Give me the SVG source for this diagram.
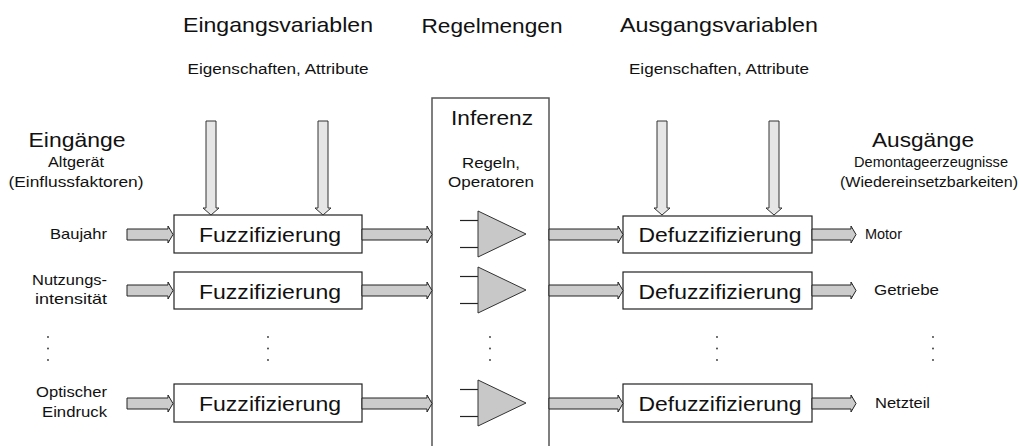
<svg xmlns="http://www.w3.org/2000/svg" width="1020" height="446" viewBox="0 0 1020 446">
<style>
text{font-family:"Liberation Sans",Arial,sans-serif;fill:#111}
.h{font-size:21px;text-anchor:middle}
.s{font-size:15.5px;text-anchor:middle}
.l{font-size:14.5px;text-anchor:end}
.o{font-size:14.5px}
.box{fill:#fff;stroke:#222;stroke-width:1.2}
.bt{font-size:21px;text-anchor:middle}
.ha{fill:#cccccc;stroke:#222;stroke-width:1}
.va{fill:#e6e6e6;stroke:#333;stroke-width:1}
.tri{fill:#c8c8c8;stroke:#333;stroke-width:1}
.ln{stroke:#222;stroke-width:1.2}
.dot{fill:#333}
</style>
<g id="headers">
<text class="h" x="278" y="32" textLength="190" lengthAdjust="spacingAndGlyphs">Eingangsvariablen</text>
<text class="h" x="492" y="33" textLength="141" lengthAdjust="spacingAndGlyphs">Regelmengen</text>
<text class="h" x="719" y="32" textLength="198" lengthAdjust="spacingAndGlyphs">Ausgangsvariablen</text>
<text class="s" x="278" y="74" textLength="181" lengthAdjust="spacingAndGlyphs">Eigenschaften, Attribute</text>
<text class="s" x="719" y="74" textLength="180" lengthAdjust="spacingAndGlyphs">Eigenschaften, Attribute</text>
</g>
<g id="eingaenge">
<text class="h" x="77" y="147" textLength="97" lengthAdjust="spacingAndGlyphs">Eingänge</text>
<text class="s" x="76" y="167" textLength="56" lengthAdjust="spacingAndGlyphs">Altgerät</text>
<text class="s" x="76" y="187" textLength="135" lengthAdjust="spacingAndGlyphs">(Einflussfaktoren)</text>
<text class="l" x="107" y="239" textLength="57" lengthAdjust="spacingAndGlyphs">Baujahr</text>
<text class="l" x="107" y="285" textLength="75" lengthAdjust="spacingAndGlyphs">Nutzungs-</text>
<text class="l" x="107" y="304" textLength="72" lengthAdjust="spacingAndGlyphs">intensität</text>
<text class="l" x="107" y="397" textLength="71" lengthAdjust="spacingAndGlyphs">Optischer</text>
<text class="l" x="107" y="417" textLength="65" lengthAdjust="spacingAndGlyphs">Eindruck</text>
</g>
<g id="ausgaenge">
<text class="h" x="923" y="147" textLength="102" lengthAdjust="spacingAndGlyphs">Ausgänge</text>
<text class="s" x="931" y="167" textLength="154" lengthAdjust="spacingAndGlyphs">Demontageerzeugnisse</text>
<text class="s" x="929" y="187" textLength="178" lengthAdjust="spacingAndGlyphs">(Wiedereinsetzbarkeiten)</text>
<text class="o" x="865" y="239" textLength="37" lengthAdjust="spacingAndGlyphs">Motor</text>
<text class="o" x="874" y="295" textLength="65" lengthAdjust="spacingAndGlyphs">Getriebe</text>
<text class="o" x="875" y="408" textLength="55" lengthAdjust="spacingAndGlyphs">Netzteil</text>
</g>
<g id="inferenz">
<rect x="432" y="98" width="117" height="360" fill="#fff" stroke="#555" stroke-width="1.5"/>
<text class="h" x="492" y="125" textLength="82" lengthAdjust="spacingAndGlyphs">Inferenz</text>
<text class="s" x="491" y="168" textLength="58" lengthAdjust="spacingAndGlyphs">Regeln,</text>
<text class="s" x="491" y="187" textLength="86" lengthAdjust="spacingAndGlyphs">Operatoren</text>
<line class="ln" x1="460" y1="220.5" x2="478" y2="220.5"/>
<line class="ln" x1="460" y1="247.5" x2="478" y2="247.5"/>
<polygon class="tri" points="478,211 526,234 478,257"/>
<line class="ln" x1="460" y1="276.5" x2="478" y2="276.5"/>
<line class="ln" x1="460" y1="303.5" x2="478" y2="303.5"/>
<polygon class="tri" points="478,267 526,290 478,313"/>
<line class="ln" x1="460" y1="389.5" x2="478" y2="389.5"/>
<line class="ln" x1="460" y1="416.5" x2="478" y2="416.5"/>
<polygon class="tri" points="478,380 526,403 478,426"/>
</g>
<g id="fuzz1"><rect class="box" x="174" y="215" width="188" height="38"/><text class="bt" x="270" y="242" textLength="142" lengthAdjust="spacingAndGlyphs">Fuzzifizierung</text></g>
<g id="fuzz2"><rect class="box" x="174" y="272" width="188" height="37"/><text class="bt" x="270" y="298.5" textLength="142" lengthAdjust="spacingAndGlyphs">Fuzzifizierung</text></g>
<g id="fuzz3"><rect class="box" x="174" y="384" width="188" height="38"/><text class="bt" x="270" y="411" textLength="142" lengthAdjust="spacingAndGlyphs">Fuzzifizierung</text></g>
<g id="defuzz1"><rect class="box" x="623" y="216" width="189" height="37"/><text class="bt" x="720" y="242" textLength="163" lengthAdjust="spacingAndGlyphs">Defuzzifizierung</text></g>
<g id="defuzz2"><rect class="box" x="623" y="272" width="189" height="37"/><text class="bt" x="720" y="298.5" textLength="163" lengthAdjust="spacingAndGlyphs">Defuzzifizierung</text></g>
<g id="defuzz3"><rect class="box" x="623" y="384" width="189" height="38"/><text class="bt" x="720" y="411" textLength="163" lengthAdjust="spacingAndGlyphs">Defuzzifizierung</text></g>
<g id="dots">
<circle class="dot" cx="48" cy="337" r="0.9"/><circle class="dot" cx="48" cy="348.5" r="0.9"/><circle class="dot" cx="48" cy="360" r="0.9"/>
<circle class="dot" cx="268" cy="337" r="0.9"/><circle class="dot" cx="268" cy="348.5" r="0.9"/><circle class="dot" cx="268" cy="360" r="0.9"/>
<circle class="dot" cx="490" cy="337" r="0.9"/><circle class="dot" cx="490" cy="348.5" r="0.9"/><circle class="dot" cx="490" cy="360" r="0.9"/>
<circle class="dot" cx="717" cy="337" r="0.9"/><circle class="dot" cx="717" cy="348.5" r="0.9"/><circle class="dot" cx="717" cy="360" r="0.9"/>
<circle class="dot" cx="933" cy="337" r="0.9"/><circle class="dot" cx="933" cy="348.5" r="0.9"/><circle class="dot" cx="933" cy="360" r="0.9"/>
</g>
<g id="connectors">
<polygon class="va" points="206,121 216,121 216,208 219,208 211,215 203,208 206,208"/>
<polygon class="va" points="318,121 328,121 328,208 331,208 323,215 315,208 318,208"/>
<polygon class="va" points="657,121 667,121 667,208 670,208 662,215 654,208 657,208"/>
<polygon class="va" points="769,121 779,121 779,208 782,208 774,215 766,208 769,208"/>
<polygon class="ha" points="127,229 168,229 168,226 173,234.5 168,243 168,240 127,240"/>
<polygon class="ha" points="362,229 427,229 427,226 432,234.5 427,243 427,240 362,240"/>
<polygon class="ha" points="549,229 618,229 618,226 623,234.5 618,243 618,240 549,240"/>
<polygon class="ha" points="812,229 851,229 851,226 856,234.5 851,243 851,240 812,240"/>
<polygon class="ha" points="127,285 168,285 168,282 173,290.5 168,299 168,296 127,296"/>
<polygon class="ha" points="362,285 427,285 427,282 432,290.5 427,299 427,296 362,296"/>
<polygon class="ha" points="549,285 618,285 618,282 623,290.5 618,299 618,296 549,296"/>
<polygon class="ha" points="812,285 851,285 851,282 856,290.5 851,299 851,296 812,296"/>
<polygon class="ha" points="127,398 168,398 168,395 173,403.5 168,412 168,409 127,409"/>
<polygon class="ha" points="362,398 427,398 427,395 432,403.5 427,412 427,409 362,409"/>
<polygon class="ha" points="549,398 618,398 618,395 623,403.5 618,412 618,409 549,409"/>
<polygon class="ha" points="812,398 851,398 851,395 856,403.5 851,412 851,409 812,409"/>
</g>
</svg>
